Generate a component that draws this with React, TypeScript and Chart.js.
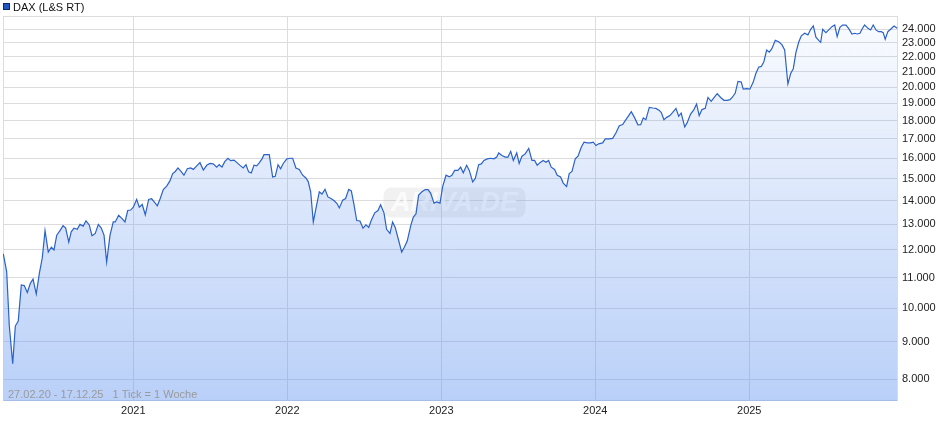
import { useEffect, useRef } from "react";
import { Chart, registerables } from "chart.js";

Chart.register(...registerables);

const seriesLabel = "DAX (L&S RT)";
const rangeNote = "27.02.20 - 17.12.25   1 Tick = 1 Woche";
const watermarkText = "ARIVA.DE";

const yearTicks = [2021, 2022, 2023, 2024, 2025];
const priceTicks = [8000, 9000, 10000, 11000, 12000, 13000, 14000, 15000, 16000, 17000, 18000, 19000, 20000, 21000, 22000, 23000, 24000];

// weekly closes, dates as decimal years
const dates2020 = [2020.156, 2020.178, 2020.195, 2020.217, 2020.234, 2020.253, 2020.273, 2020.292, 2020.312, 2020.331, 2020.349, 2020.37, 2020.39, 2020.409, 2020.427, 2020.448, 2020.468, 2020.485, 2020.503, 2020.524, 2020.544, 2020.561, 2020.581, 2020.597, 2020.615, 2020.636, 2020.654, 2020.675, 2020.693, 2020.714, 2020.732, 2020.753, 2020.773, 2020.792, 2020.81, 2020.827, 2020.849, 2020.87, 2020.883, 2020.905, 2020.927, 2020.946, 2020.964, 2020.983];
const closes2020 = [11850, 11200, 9450, 8400, 9450, 9600, 10750, 10730, 10500, 10800, 10950, 10450, 11150, 11700, 12750, 11920, 12100, 12000, 12570, 12750, 12950, 12850, 12300, 12700, 12850, 12800, 13000, 12930, 13150, 12980, 12550, 12640, 13000, 12850, 12570, 11550, 12570, 13100, 13100, 13380, 13240, 13100, 13580, 13600];

const dates2021 = [2021.0, 2021.022, 2021.039, 2021.058, 2021.078, 2021.1, 2021.119, 2021.136, 2021.156, 2021.175, 2021.195, 2021.217, 2021.238, 2021.256, 2021.273, 2021.29, 2021.31, 2021.329, 2021.351, 2021.373, 2021.39, 2021.412, 2021.433, 2021.455, 2021.477, 2021.498, 2021.519, 2021.542, 2021.558, 2021.576, 2021.594, 2021.615, 2021.632, 2021.654, 2021.675, 2021.697, 2021.714, 2021.732, 2021.749, 2021.766, 2021.784, 2021.801, 2021.818, 2021.836, 2021.849, 2021.866, 2021.883, 2021.905, 2021.922, 2021.94, 2021.957, 2021.974, 2021.996];
const closes2021 = [13720, 14060, 13720, 13840, 13400, 14060, 14090, 13950, 13780, 14100, 14500, 14660, 14900, 15250, 15350, 15520, 15350, 15170, 15480, 15520, 15450, 15620, 15780, 15420, 15650, 15740, 15720, 15560, 15680, 15560, 15830, 16000, 15880, 15910, 15770, 15620, 15520, 15680, 15330, 15280, 15650, 15620, 15770, 15970, 16180, 16180, 16180, 15090, 15120, 15680, 15480, 15740, 15960];

const dates2022 = [2022.018, 2022.035, 2022.056, 2022.078, 2022.1, 2022.121, 2022.136, 2022.152, 2022.169, 2022.186, 2022.208, 2022.225, 2022.245, 2022.264, 2022.286, 2022.305, 2022.323, 2022.338, 2022.36, 2022.379, 2022.399, 2022.416, 2022.433, 2022.451, 2022.472, 2022.492, 2022.511, 2022.529, 2022.545, 2022.568, 2022.589, 2022.606, 2022.628, 2022.645, 2022.667, 2022.684, 2022.701, 2022.723, 2022.743, 2022.76, 2022.779, 2022.801, 2022.818, 2022.836, 2022.853, 2022.875, 2022.896, 2022.914, 2022.931, 2022.953, 2022.97, 2022.992];
const closes2022 = [16000, 16000, 15520, 15450, 15170, 15040, 14870, 14400, 13100, 13660, 14400, 14300, 14510, 14170, 14090, 14000, 13880, 13690, 14030, 14100, 14510, 14440, 13840, 13160, 13140, 12850, 12980, 12880, 13160, 13480, 13580, 13830, 13480, 12800, 12640, 13100, 12880, 12370, 11920, 12100, 12340, 12930, 13290, 13440, 14250, 14400, 14500, 14500, 14340, 13900, 13950, 13900];

const dates2023 = [2023.009, 2023.031, 2023.052, 2023.069, 2023.087, 2023.108, 2023.126, 2023.143, 2023.165, 2023.182, 2023.204, 2023.221, 2023.243, 2023.26, 2023.277, 2023.299, 2023.321, 2023.342, 2023.36, 2023.373, 2023.394, 2023.416, 2023.433, 2023.451, 2023.468, 2023.49, 2023.506, 2023.524, 2023.545, 2023.568, 2023.589, 2023.606, 2023.623, 2023.641, 2023.662, 2023.68, 2023.697, 2023.714, 2023.736, 2023.753, 2023.775, 2023.792, 2023.814, 2023.831, 2023.849, 2023.87, 2023.888, 2023.909, 2023.927, 2023.948, 2023.97, 2023.987];
const closes2023 = [14640, 15170, 15090, 15170, 15400, 15400, 15560, 15290, 15650, 15400, 14850, 15020, 15680, 15720, 15890, 15970, 16000, 15970, 16060, 16270, 16140, 16060, 16060, 16350, 15890, 16270, 15740, 16100, 16220, 16500, 15890, 15890, 15650, 15780, 15890, 15800, 15890, 15560, 15450, 15170, 15090, 14800, 14640, 15250, 15350, 15970, 16100, 16560, 16830, 16790, 16790, 16830];

const dates2024 = [2024.005, 2024.022, 2024.048, 2024.065, 2024.091, 2024.113, 2024.134, 2024.156, 2024.178, 2024.199, 2024.217, 2024.234, 2024.256, 2024.277, 2024.295, 2024.312, 2024.329, 2024.351, 2024.373, 2024.394, 2024.416, 2024.429, 2024.446, 2024.464, 2024.485, 2024.503, 2024.524, 2024.542, 2024.558, 2024.581, 2024.597, 2024.619, 2024.641, 2024.658, 2024.675, 2024.693, 2024.714, 2024.732, 2024.753, 2024.775, 2024.792, 2024.814, 2024.836, 2024.857, 2024.875, 2024.892, 2024.909, 2024.927, 2024.948, 2024.961, 2024.983];
const closes2024 = [16650, 16740, 16790, 17000, 17000, 17030, 17320, 17720, 17780, 18060, 18290, 18520, 18160, 17770, 17780, 18160, 18060, 18770, 18730, 18710, 18590, 18470, 18060, 18190, 18290, 18470, 18710, 18250, 18440, 17650, 17890, 18380, 18640, 18970, 18290, 18640, 18710, 19360, 19130, 19390, 19590, 19360, 19190, 19190, 19230, 19390, 19630, 20360, 20320, 19870, 19900];

const dates2025 = [2025.004, 2025.026, 2025.043, 2025.061, 2025.078, 2025.095, 2025.113, 2025.13, 2025.147, 2025.169, 2025.191, 2025.212, 2025.23, 2025.251, 2025.269, 2025.286, 2025.303, 2025.321, 2025.338, 2025.36, 2025.381, 2025.399, 2025.416, 2025.433, 2025.451, 2025.464, 2025.477, 2025.498, 2025.516, 2025.537, 2025.555, 2025.571, 2025.589, 2025.606, 2025.628, 2025.645, 2025.667, 2025.685, 2025.701, 2025.719, 2025.732, 2025.749, 2025.771, 2025.788, 2025.805, 2025.823, 2025.84, 2025.857, 2025.87, 2025.883, 2025.9, 2025.918, 2025.94, 2025.961];
const closes2025 = [19870, 20320, 20870, 21290, 21340, 21660, 22470, 22320, 22560, 23160, 23060, 22850, 22470, 20200, 20870, 21190, 22280, 23020, 23490, 23680, 23560, 23980, 24230, 23390, 23160, 23020, 23980, 23730, 23930, 24180, 24300, 23430, 24120, 24300, 24300, 24050, 23630, 23680, 23630, 23680, 23980, 24300, 24050, 23930, 24300, 23930, 23800, 23800, 23730, 23240, 23800, 23980, 24230, 24050];

const xMin = 2020.154;
const xMax = 2025.966;
const yMin = 7470;
const yMax = 25000;

const FONT = '"Liberation Sans", Arial, sans-serif';

function formatThousands(v: number): string {
  const th = Math.floor(v / 1000);
  const rest = String(Math.round(v % 1000)).padStart(3, "0");
  return th > 0 ? `${th}.${rest}` : rest;
}

const decorPlugin = {
  id: "decor",
  beforeDatasetsDraw(chart: any) {
    const { ctx, chartArea: a } = chart;
    ctx.save();
    // plot frame
    ctx.strokeStyle = "#dcdcdc";
    ctx.lineWidth = 1;
    ctx.strokeRect(a.left + 0.5, a.top + 0.5, a.right - a.left - 1, a.bottom - a.top - 1);
    // watermark
    const cx = (a.left + a.right) / 2 + 4;
    const cy = (a.top + a.bottom) / 2 - 6;
    const w = 142;
    const h = 30;
    const r = 8;
    ctx.fillStyle = "rgba(190,190,190,0.22)";
    ctx.beginPath();
    ctx.roundRect(cx - w / 2, cy - h / 2, w, h, r);
    ctx.fill();
    ctx.fillStyle = "rgba(255,255,255,0.75)";
    ctx.font = `italic bold 27px ${FONT}`;
    ctx.textAlign = "center";
    ctx.textBaseline = "middle";
    ctx.fillText(watermarkText, cx, cy + 1);
    ctx.restore();
  },
  afterDraw(chart: any) {
    const { ctx, chartArea: a } = chart;
    ctx.save();
    // legend
    const label = chart.data.datasets[0].label;
    ctx.fillStyle = "#1f56c2";
    ctx.fillRect(3, 3, 7, 7);
    ctx.strokeStyle = "#0b2a6e";
    ctx.lineWidth = 1;
    ctx.strokeRect(3.5, 3.5, 6, 6);
    ctx.fillStyle = "#111";
    ctx.font = `11px ${FONT}`;
    ctx.textAlign = "left";
    ctx.textBaseline = "alphabetic";
    ctx.fillText(label, 13, 10.5);
    // range note
    ctx.fillStyle = "#9a9a9a";
    ctx.font = `11px ${FONT}`;
    ctx.fillText(rangeNote, a.left + 5, a.bottom - 3);
    ctx.restore();
  },
};

export default function App() {
  const canvasRef = useRef<HTMLCanvasElement | null>(null);

  useEffect(() => {
    document.body.style.margin = "0";
    const canvas = canvasRef.current;
    if (!canvas) return;

    const allDates = [...dates2020, ...dates2021, ...dates2022, ...dates2023, ...dates2024, ...dates2025];
    const allCloses = [...closes2020, ...closes2021, ...closes2022, ...closes2023, ...closes2024, ...closes2025];
    const points = allDates.map((d, i) => ({ x: d, y: allCloses[i] }));

    const chart = new Chart(canvas, {
      type: "line",
      data: {
        datasets: [
          {
            label: seriesLabel,
            data: points,
            borderColor: "#2b62c8",
            borderWidth: 1.2,
            pointRadius: 0,
            tension: 0,
            fill: "start",
            backgroundColor: (context: any) => {
              const c = context.chart;
              const a = c.chartArea;
              if (!a) return "rgba(100,150,240,0.2)";
              const g = c.ctx.createLinearGradient(0, a.top, 0, a.bottom);
              g.addColorStop(0, "rgba(100,150,240,0.03)");
              g.addColorStop(1, "rgba(100,150,240,0.45)");
              return g;
            },
          },
        ],
      },
      options: {
        responsive: false,
        animation: false,
        layout: { padding: { left: 3, top: 16, right: 0, bottom: 0 } },
        plugins: {
          legend: { display: false },
          tooltip: { enabled: false },
        },
        scales: {
          x: {
            type: "linear",
            min: xMin,
            max: xMax,
            afterBuildTicks: (s: any) => {
              s.ticks = yearTicks.map((v) => ({ value: v }));
            },
            afterFit: (s: any) => {
              s.height = 34;
            },
            ticks: {
              callback: (v: any) => String(v),
              color: "#222",
              font: { family: FONT, size: 11 },
              padding: 3,
              maxRotation: 0,
              autoSkip: false,
            },
            grid: { color: "#dcdcdc", drawTicks: false },
            border: { display: false },
          },
          y: {
            type: "logarithmic",
            position: "right",
            min: yMin,
            max: yMax,
            afterBuildTicks: (s: any) => {
              s.ticks = priceTicks.map((v) => ({ value: v }));
            },
            afterFit: (s: any) => {
              s.width = 42;
            },
            ticks: {
              callback: (v: any) => formatThousands(Number(v)),
              color: "#222",
              font: { family: FONT, size: 11 },
              padding: 4,
              autoSkip: false,
            },
            grid: { color: "#dcdcdc", drawTicks: false },
            border: { display: false },
          },
        },
      },
      plugins: [decorPlugin],
    });

    return () => chart.destroy();
  }, []);

  return (
    <div style={{ width: 940, height: 435 }}>
      <canvas ref={canvasRef} width={940} height={435} style={{ display: "block" }} />
    </div>
  );
}
